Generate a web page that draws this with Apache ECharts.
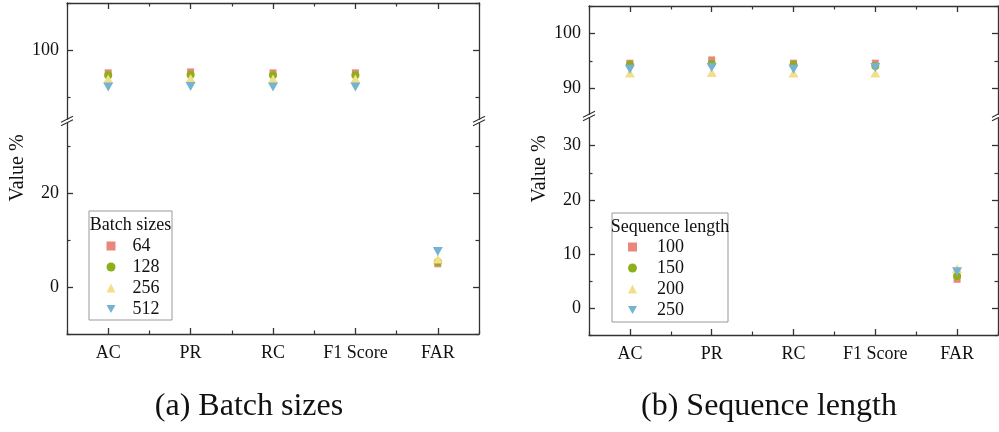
<!DOCTYPE html>
<html><head><meta charset="utf-8">
<script src="https://cdn.jsdelivr.net/npm/echarts@6/dist/echarts.min.js"></script>
<style>html,body{margin:0;padding:0;background:#fff}#c{width:999px;height:432px}</style>
</head><body><div id="c"></div>
<script>
// ---------- data ----------
const categories = ['AC', 'PR', 'RC', 'F1 Score', 'FAR'];

// (a) Batch sizes
const batchNames = ['64', '128', '256', '512'];
const batch64  = [95.2, 95.4, 95.2, 95.2, 5.0];
const batch128 = [94.7, 94.8, 94.7, 94.7, 5.4];
const batch256 = [93.9, 94.0, 93.9, 93.9, 6.0];
const batch512 = [92.2, 92.3, 92.2, 92.2, 7.6];

// (b) Sequence length
const seqNames = ['100', '150', '200', '250'];
const seq100 = [94.6, 95.2, 94.6, 94.6, 5.3];
const seq150 = [94.3, 94.5, 94.3, 94.1, 5.9];
const seq200 = [92.8, 92.9, 92.8, 92.8, 7.3];
const seq250 = [93.5, 93.8, 93.5, 93.8, 6.7];

// tick labels (major) and minor ticks
const aUpperTicks = [100], aUpperMinor = [90, 110];
const aLowerTicks = [0, 20], aLowerMinor = [-10, 10, 30];
const bUpperTicks = [90, 100], bUpperMinor = [95, 105];
const bLowerTicks = [0, 10, 20, 30], bLowerMinor = [-5, 5, 15, 25];

const captionA = '(a) Batch sizes';
const captionB = '(b) Sequence length';
const yName = 'Value %';

// ---------- styles / layout ----------
const FONT = 'Liberation Serif';
const AX = '#333';
const TXT = '#111';
const colors = ['#E8877B', '#8DB01A', '#F3DF8A', '#74B3D3'];
const symbols = ['rect', 'circle', 'triangle', 'path://M0,0L10,0L5,8.66Z'];
const symSizes = [7, 8, [10, 9], [10, 9]];

const panels = [
  { title: 'Batch sizes', names: batchNames, values: [batch64, batch128, batch256, batch512],
    left: 67, width: 412, top: 3, breakY: 121, bottom: 334, upper: [85, 110], lower: [-10, 35.5],
    upT: aUpperTicks, upM: aUpperMinor, loT: aLowerTicks, loM: aLowerMinor,
    box: [89, 211, 83, 109], titleX: 130.5, titleY: 225, legLeft: 106.5, legTop: 237, legPad: 12,
    yNameX: 18, yNameY: 168, caption: captionA, capX: 249 },
  { title: 'Sequence length', names: seqNames, values: [seq100, seq150, seq200, seq250],
    left: 589, width: 409, top: 6, breakY: 116, bottom: 335, upper: [85, 105], lower: [-5, 35.5],
    upT: bUpperTicks, upM: bUpperMinor, loT: bLowerTicks, loM: bLowerMinor,
    box: [612, 213, 116, 109], titleX: 670, titleY: 227, legLeft: 628, legTop: 238, legPad: 15,
    yNameX: 540, yNameY: 169, caption: captionB, capX: 769 }
];

const grid = [], xAxis = [], yAxis = [], series = [], legend = [], graphic = [];

function yAxes(g, range, major, minor) {
  const out = [];
  ['left', 'right'].forEach(pos => {
    out.push({ type: 'value', gridIndex: g, position: pos, min: range[0], max: range[1],
      axisLine: { show: true, onZero: false, lineStyle: { color: AX, width: 1.3 } },
      axisTick: { show: true, inside: true, length: 6, customValues: major, lineStyle: { color: AX, width: 1.3 } },
      axisLabel: { show: pos === 'left', customValues: major, color: TXT, fontFamily: FONT, fontSize: 18, margin: 8 },
      splitLine: { show: false } });
    out.push({ type: 'value', gridIndex: g, position: pos, min: range[0], max: range[1],
      axisLine: { show: false, onZero: false },
      axisTick: { show: true, inside: true, length: 3.5, customValues: minor, lineStyle: { color: AX, width: 1.2 } },
      axisLabel: { show: false }, splitLine: { show: false } });
  });
  return out;
}

function breakMark(x, y) {
  return [
    { type: 'rect', shape: { x: x - 2, y: y - 1.2, width: 4, height: 2.6 }, style: { fill: '#fff' }, z: 100 },
    { type: 'line', shape: { x1: x - 6, y1: y + 1.2, x2: x + 6, y2: y - 4.8 }, style: { stroke: AX, lineWidth: 1.2 }, z: 101 },
    { type: 'line', shape: { x1: x - 6, y1: y + 4.8, x2: x + 6, y2: y - 1.2 }, style: { stroke: AX, lineWidth: 1.2 }, z: 101 }
  ];
}

panels.forEach((P, pi) => {
  const gU = pi * 2, gL = pi * 2 + 1;
  grid.push({ left: P.left, top: P.top, width: P.width, height: P.breakY - P.top, outerBoundsMode: 'none', containLabel: false });
  grid.push({ left: P.left, top: P.breakY, width: P.width, height: P.bottom - P.breakY, outerBoundsMode: 'none', containLabel: false });

  [[gU, 'top', false], [gL, 'bottom', true]].forEach(([g, pos, lab]) => {
    xAxis.push({ type: 'category', gridIndex: g, position: pos, data: categories, boundaryGap: true,
      axisLine: { show: true, onZero: false, lineStyle: { color: AX, width: 1.3 } },
      axisTick: { show: true, inside: true, alignWithLabel: true, interval: 0, length: 6, lineStyle: { color: AX, width: 1.3 } },
      axisLabel: { show: lab, interval: 0, color: TXT, fontFamily: FONT, fontSize: 18, margin: 10 },
      splitLine: { show: false } });
    xAxis.push({ type: 'category', gridIndex: g, position: pos, data: categories, boundaryGap: true,
      axisLine: { show: false, onZero: false },
      axisTick: { show: true, inside: true, interval: 0, length: 3.5, lineStyle: { color: AX, width: 1.2 } },
      axisLabel: { show: false, interval: 0 }, splitLine: { show: false } });
  });

  yAxes(gU, P.upper, P.upT, P.upM).forEach(a => yAxis.push(a));
  yAxes(gL, P.lower, P.loT, P.loM).forEach(a => yAxis.push(a));

  P.values.forEach((vals, si) => {
    const base = { type: 'scatter', name: P.names[si], symbol: symbols[si], symbolSize: symSizes[si],
      itemStyle: { color: colors[si], opacity: 1 }, z: 2 + si, emphasis: { disabled: true }, silent: true };
    series.push(Object.assign({}, base, { xAxisIndex: gU * 2, yAxisIndex: gU * 4,
      data: vals.map(v => (v >= P.upper[0] && v <= P.upper[1]) ? v : '-') }));
    series.push(Object.assign({}, base, { xAxisIndex: gL * 2, yAxisIndex: gL * 4,
      data: vals.map(v => (v >= P.lower[0] && v <= P.lower[1]) ? v : '-') }));
  });

  legend.push({ data: P.names, orient: 'vertical', left: P.legLeft, top: P.legTop, padding: 0, itemGap: 3,
    itemWidth: 9, itemHeight: 9, selectedMode: false, z: 20,
    textStyle: { fontFamily: FONT, fontSize: 18, color: TXT, lineHeight: 18, padding: [0, 0, 0, P.legPad] } });

  graphic.push({ type: 'rect', shape: { x: P.box[0], y: P.box[1], width: P.box[2], height: P.box[3] },
    style: { fill: '#fff', stroke: '#999', lineWidth: 1 }, z: 15 });
  graphic.push({ type: 'text', x: P.titleX, y: P.titleY, z: 16,
    style: { text: P.title, fontFamily: FONT, fontSize: 18, fill: TXT, align: 'center', verticalAlign: 'middle' } });
  graphic.push({ type: 'text', x: P.yNameX, y: P.yNameY, rotation: Math.PI / 2, z: 16,
    style: { text: yName, fontFamily: FONT, fontSize: 20, fill: TXT, align: 'center', verticalAlign: 'middle' } });
  graphic.push({ type: 'text', x: P.capX, y: 407, z: 16,
    style: { text: P.caption, fontFamily: FONT, fontSize: 32, fill: TXT, align: 'center', verticalAlign: 'middle' } });
  breakMark(P.left, P.breakY).forEach(e => graphic.push(e));
  breakMark(P.left + P.width, P.breakY).forEach(e => graphic.push(e));
});

const chart = echarts.init(document.getElementById('c'), null, { renderer: 'canvas' });
chart.setOption({ animation: false, backgroundColor: '#fff', grid, xAxis, yAxis, series, legend, graphic });
</script>
</body></html>
